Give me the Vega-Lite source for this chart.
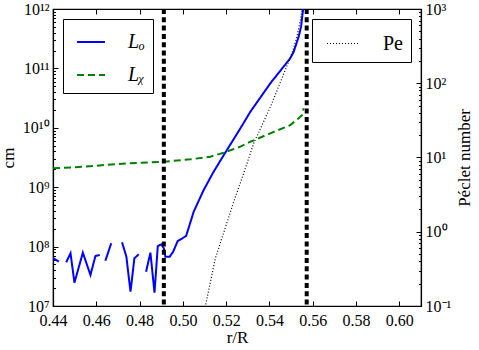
{
  "$schema": "https://vega.github.io/schema/vega-lite/v6.json",
  "width": 368,
  "height": 297,
  "autosize": {"type": "none"},
  "padding": {"left": 53, "top": 9, "right": 58, "bottom": 44},
  "config": {
    "view": {"stroke": "black", "strokeWidth": 1.2},
    "font": "Liberation Serif",
    "axis": {
      "labelFont": "Liberation Serif", "titleFont": "Liberation Serif",
      "labelFontSize": 16, "titleFontSize": 17, "titleFontWeight": "normal",
      "domainColor": "black", "tickColor": "black", "labelColor": "black", "titleColor": "black",
      "grid": false, "domainWidth": 1.2, "labelFlush": false
    }
  },
  "datasets": {
    "L": [
      {"s": "Lₒ", "g": 1, "x": 0.44, "y": 6.43e7},
      {"s": "Lₒ", "g": 1, "x": 0.4427, "y": 5.57e7},
      {"s": "Lₒ", "g": 2, "x": 0.4461, "y": 5.45e7},
      {"s": "Lₒ", "g": 2, "x": 0.4481, "y": 7.71e7},
      {"s": "Lₒ", "g": 2, "x": 0.4499, "y": 2.47e7},
      {"s": "Lₒ", "g": 2, "x": 0.4538, "y": 7.89e7},
      {"s": "Lₒ", "g": 2, "x": 0.4573, "y": 3.33e7},
      {"s": "Lₒ", "g": 2, "x": 0.4596, "y": 6.95e7},
      {"s": "Lₒ", "g": 2, "x": 0.4616, "y": 7.23e7},
      {"s": "Lₒ", "g": 3, "x": 0.4642, "y": 5.79e7},
      {"s": "Lₒ", "g": 3, "x": 0.4669, "y": 1.14e8},
      {"s": "Lₒ", "g": 4, "x": 0.4719, "y": 1.18e8},
      {"s": "Lₒ", "g": 4, "x": 0.4739, "y": 6.76e7},
      {"s": "Lₒ", "g": 4, "x": 0.4758, "y": 1.74e7},
      {"s": "Lₒ", "g": 4, "x": 0.4776, "y": 6.35e7},
      {"s": "Lₒ", "g": 4, "x": 0.4796, "y": 7.41e7},
      {"s": "Lₒ", "g": 5, "x": 0.4830, "y": 3.78e7},
      {"s": "Lₒ", "g": 5, "x": 0.4850, "y": 7.89e7},
      {"s": "Lₒ", "g": 5, "x": 0.4869, "y": 1.67e7},
      {"s": "Lₒ", "g": 5, "x": 0.4884, "y": 1.02e8},
      {"s": "Lₒ", "g": 5, "x": 0.4900, "y": 1.09e8},
      {"s": "Lₒ", "g": 5, "x": 0.4912, "y": 9.35e7},
      {"s": "Lₒ", "g": 5, "x": 0.4919, "y": 6.76e7},
      {"s": "Lₒ", "g": 5, "x": 0.4939, "y": 6.76e7},
      {"s": "Lₒ", "g": 5, "x": 0.4955, "y": 8.2e7},
      {"s": "Lₒ", "g": 5, "x": 0.4976, "y": 1.24e8},
      {"s": "Lₒ", "g": 5, "x": 0.5015, "y": 1.51e8},
      {"s": "Lₒ", "g": 5, "x": 0.5050, "y": 3.87e8},
      {"s": "Lₒ", "g": 5, "x": 0.5096, "y": 8.97e8},
      {"s": "Lₒ", "g": 5, "x": 0.5142, "y": 1.82e9},
      {"s": "Lₒ", "g": 5, "x": 0.5189, "y": 3.48e9},
      {"s": "Lₒ", "g": 5, "x": 0.5261, "y": 9.19e9},
      {"s": "Lₒ", "g": 5, "x": 0.5312, "y": 1.87e10},
      {"s": "Lₒ", "g": 5, "x": 0.5404, "y": 5.61e10},
      {"s": "Lₒ", "g": 5, "x": 0.5496, "y": 1.48e11},
      {"s": "Lₒ", "g": 5, "x": 0.5512, "y": 1.91e11},
      {"s": "Lₒ", "g": 5, "x": 0.5535, "y": 3.42e11},
      {"s": "Lₒ", "g": 5, "x": 0.5546, "y": 5.04e11},
      {"s": "Lₒ", "g": 5, "x": 0.5555, "y": 9.62e11},
      {"s": "Lₒ", "g": 5, "x": 0.5561, "y": 1.5e12},
      {"s": "Lᵪ", "g": 6, "x": 0.44, "y": 2.08e9},
      {"s": "Lᵪ", "g": 6, "x": 0.4542, "y": 2.21e9},
      {"s": "Lᵪ", "g": 6, "x": 0.4696, "y": 2.46e9},
      {"s": "Lᵪ", "g": 6, "x": 0.4912, "y": 2.69e9},
      {"s": "Lᵪ", "g": 6, "x": 0.5035, "y": 2.95e9},
      {"s": "Lᵪ", "g": 6, "x": 0.5127, "y": 3.26e9},
      {"s": "Lᵪ", "g": 6, "x": 0.5189, "y": 3.81e9},
      {"s": "Lᵪ", "g": 6, "x": 0.5266, "y": 4.81e9},
      {"s": "Lᵪ", "g": 6, "x": 0.5312, "y": 5.83e9},
      {"s": "Lᵪ", "g": 6, "x": 0.5404, "y": 8.07e9},
      {"s": "Lᵪ", "g": 6, "x": 0.5496, "y": 1.11e10},
      {"s": "Lᵪ", "g": 6, "x": 0.5535, "y": 1.45e10},
      {"s": "Lᵪ", "g": 6, "x": 0.5551, "y": 1.64e10},
      {"s": "Lᵪ", "g": 6, "x": 0.5558, "y": 2.13e10}
    ],
    "Pe": [
      {"s": "Pe", "x": 0.5082, "pe": 0.056},
      {"s": "Pe", "x": 0.5104, "pe": 0.1},
      {"s": "Pe", "x": 0.5150, "pe": 0.439},
      {"s": "Pe", "x": 0.5235, "pe": 2.54},
      {"s": "Pe", "x": 0.5281, "pe": 6.12},
      {"s": "Pe", "x": 0.5327, "pe": 15.5},
      {"s": "Pe", "x": 0.5404, "pe": 47.8},
      {"s": "Pe", "x": 0.5504, "pe": 253},
      {"s": "Pe", "x": 0.5527, "pe": 424},
      {"s": "Pe", "x": 0.5543, "pe": 711},
      {"s": "Pe", "x": 0.5550, "pe": 971},
      {"s": "Pe", "x": 0.5554, "pe": 1300}
    ],
    "V": [
      {"x": 0.4912},
      {"x": 0.5572}
    ]
  },
  "layer": [
    {
      "data": {"name": "L"},
      "mark": {"type": "line", "clip": true, "strokeWidth": 2},
      "encoding": {
        "x": {
          "field": "x", "type": "quantitative",
          "scale": {"domain": [0.44, 0.61], "nice": false, "zero": false},
          "axis": {
            "orient": "bottom", "title": "r/R",
            "values": [0.44, 0.46, 0.48, 0.5, 0.52, 0.54, 0.56, 0.58, 0.6],
            "format": ".2f", "tickSize": -5, "labelPadding": 11, "titlePadding": 1
          }
        },
        "y": {
          "field": "y", "type": "quantitative",
          "scale": {"type": "log", "domain": [1e7, 1e12], "nice": false},
          "axis": {
            "orient": "left", "title": "cm", "titlePadding": 5, "labelPadding": 9,
            "values": [1e7,2e7,3e7,4e7,5e7,6e7,7e7,8e7,9e7,1e8,2e8,3e8,4e8,5e8,6e8,7e8,8e8,9e8,1e9,2e9,3e9,4e9,5e9,6e9,7e9,8e9,9e9,1e10,2e10,3e10,4e10,5e10,6e10,7e10,8e10,9e10,1e11,2e11,3e11,4e11,5e11,6e11,7e11,8e11,9e11,1e12],
            "labelExpr": "abs(log(datum.value)/LN10 - round(log(datum.value)/LN10)) < 0.01 ? '10' + ['⁻¹','⁰','¹','²','³','⁴','⁵','⁶','⁷','⁸','⁹','¹⁰','¹¹','¹²'][round(log(datum.value)/LN10)+1] : ''",
            "tickSize": {"condition": {"test": "abs(log(datum.value)/LN10 - round(log(datum.value)/LN10)) < 0.01", "value": -5}, "value": -2.5}
          }
        },
        "color": {
          "field": "s", "type": "nominal",
          "scale": {"domain": ["Lₒ", "Lᵪ"], "range": ["#0000ff", "#008000"]},
          "legend": {
            "title": null, "orient": "top-left", "offset": 10, "padding": 8, "symbolOffset": 5,
            "strokeColor": "black", "fillColor": "white", "cornerRadius": 0,
            "symbolType": "stroke", "symbolSize": 784, "symbolStrokeWidth": 2,
            "labelFont": "Liberation Serif", "labelFontStyle": "italic", "labelFontSize": 20,
            "labelOffset": 22, "rowPadding": 8, "labelColor": "black"
          }
        },
        "strokeDash": {
          "field": "s", "type": "nominal",
          "scale": {"domain": ["Lₒ", "Lᵪ"], "range": [[1, 0], [7, 4]]},
          "legend": {
            "title": null, "orient": "top-left", "offset": 10, "padding": 8, "symbolOffset": 5,
            "strokeColor": "black", "fillColor": "white", "cornerRadius": 0,
            "symbolType": "stroke", "symbolSize": 784, "symbolStrokeWidth": 2,
            "labelFont": "Liberation Serif", "labelFontStyle": "italic", "labelFontSize": 20,
            "labelOffset": 22, "rowPadding": 8, "labelColor": "black"
          }
        },
        "detail": {"field": "g", "type": "nominal"}
      }
    },
    {
      "data": {"name": "Pe"},
      "mark": {"type": "line", "clip": true, "strokeDash": [1, 2], "strokeWidth": 1.2, "color": "black"},
      "encoding": {
        "x": {
          "field": "x", "type": "quantitative",
          "axis": {
            "orient": "top", "title": null, "labels": false,
            "values": [0.44, 0.46, 0.48, 0.5, 0.52, 0.54, 0.56, 0.58, 0.6],
            "tickSize": -5
          }
        },
        "y": {
          "field": "pe", "type": "quantitative",
          "scale": {"type": "log", "domain": [0.1, 1000], "nice": false},
          "axis": {
            "orient": "right", "title": "Péclet number", "titleAngle": 270, "titleBaseline": "top", "titlePadding": 6, "labelPadding": 9,
            "values": [0.1,0.2,0.3,0.4,0.5,0.6,0.7,0.8,0.9,1,2,3,4,5,6,7,8,9,10,20,30,40,50,60,70,80,90,100,200,300,400,500,600,700,800,900,1000],
            "labelExpr": "abs(log(datum.value)/LN10 - round(log(datum.value)/LN10)) < 0.01 ? '10' + ['⁻¹','⁰','¹','²','³','⁴','⁵','⁶','⁷','⁸','⁹','¹⁰','¹¹','¹²'][round(log(datum.value)/LN10)+1] : ''",
            "tickSize": {"condition": {"test": "abs(log(datum.value)/LN10 - round(log(datum.value)/LN10)) < 0.01", "value": -5}, "value": -2.5}
          }
        },
        "opacity": {
          "field": "s", "type": "nominal",
          "scale": {"domain": ["Pe"], "range": [1]},
          "legend": {
            "title": null, "orient": "top-right", "offset": 10, "padding": 8, "symbolOffset": 6,
            "strokeColor": "black", "fillColor": "white", "cornerRadius": 0,
            "symbolType": "stroke", "symbolSize": 961, "symbolStrokeColor": "black", "symbolStrokeWidth": 1.2, "symbolDash": [1, 2],
            "labelFont": "Liberation Serif", "labelFontSize": 20,
            "labelOffset": 24, "labelColor": "black"
          }
        }
      }
    },
    {
      "data": {"name": "V"},
      "mark": {"type": "rule", "strokeWidth": 4, "strokeDash": [5, 3.3], "color": "black"},
      "encoding": {
        "x": {"field": "x", "type": "quantitative", "axis": null}
      }
    }
  ],
  "resolve": {
    "scale": {"y": "independent"},
    "axis": {"x": "independent"}
  }
}
